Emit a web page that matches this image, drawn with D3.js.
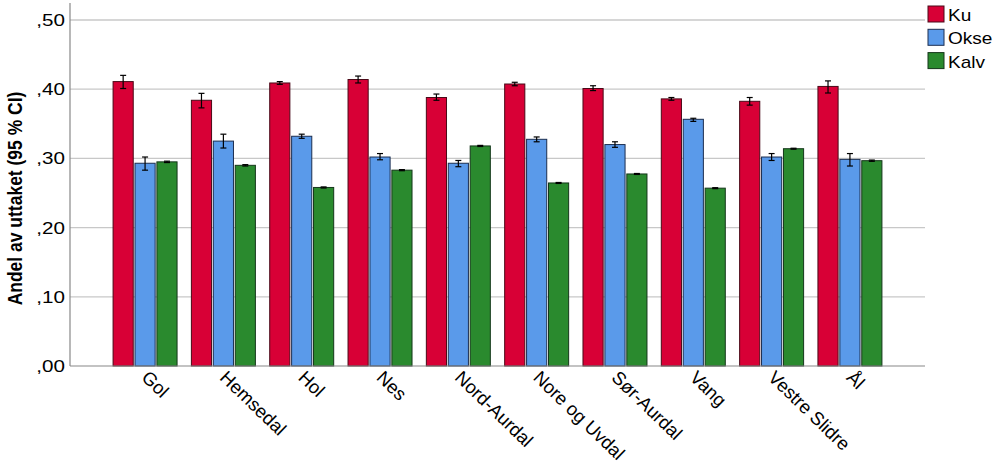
<!DOCTYPE html>
<html><head><meta charset="utf-8">
<script src="https://cdn.jsdelivr.net/npm/d3@7"></script>
<style>body{margin:0;background:#fff}svg{display:block}</style>
</head><body>
<svg id="c" width="997" height="465"></svg>
<script>
const categories = ["Gol","Hemsedal","Hol","Nes","Nord-Aurdal","Nore og Uvdal","Sør-Aurdal","Vang","Vestre Slidre","Ål"];
const seriesNames = ["Ku","Okse","Kalv"];
const kuMean  = [0.411,0.384,0.409,0.414,0.388,0.4075,0.401,0.386,0.3825,0.404];
const kuLow   = [0.401,0.373,0.407,0.409,0.384,0.405,0.398,0.384,0.377,0.3945];
const kuHigh  = [0.420,0.394,0.411,0.419,0.393,0.410,0.405,0.388,0.388,0.412];
const okseMean= [0.293,0.325,0.332,0.302,0.293,0.3276,0.320,0.3565,0.302,0.2986];
const okseLow = [0.283,0.315,0.329,0.298,0.288,0.324,0.316,0.3535,0.297,0.289];
const okseHigh= [0.302,0.335,0.335,0.307,0.297,0.331,0.324,0.358,0.307,0.307];
const kalvMean= [0.295,0.290,0.258,0.283,0.318,0.2645,0.2775,0.257,0.314,0.2967];
const kalvLow = [0.294,0.289,0.2572,0.2822,0.3172,0.2638,0.2768,0.2563,0.3133,0.2958];
const kalvHigh= [0.296,0.291,0.2588,0.2838,0.3188,0.2652,0.2782,0.2577,0.3147,0.2976];
const yTicks = [0,0.1,0.2,0.3,0.4,0.5];
const yTickLabels = [",00",",10",",20",",30",",40",",50"];
const colors = ["#d80036","#5a9aea","#2a8a2e"];
const strokes = ["#4a0a18","#1c2e50","#14361a"];

const means=[kuMean,okseMean,kalvMean], lows=[kuLow,okseLow,kalvLow], highs=[kuHigh,okseHigh,kalvHigh];
const FONT = "Liberation Sans, Arial, sans-serif";

const svg = d3.select("#c");
const L=70, R=925, T=3, B=366;
const y = d3.scaleLinear().domain([0,0.5]).range([B,20]);
const x0 = d3.scaleBand().domain(categories).range([L,R]).paddingInner(0.183).paddingOuter(0.55);
const x1 = d3.scaleBand().domain(seriesNames).range([0,x0.bandwidth()]).paddingInner(0.08);

// gridlines
svg.append("g").selectAll("line").data(yTicks.slice(1)).join("line")
  .attr("x1",L).attr("x2",R).attr("y1",d=>y(d)).attr("y2",d=>y(d))
  .attr("stroke","#c8c8c8").attr("stroke-width",1.3);

// bars
const g = svg.append("g");
categories.forEach((c,i)=>{
  seriesNames.forEach((s,j)=>{
    const bx = x0(c)+x1(s);
    g.append("rect").attr("x",bx).attr("y",y(means[j][i])).attr("width",x1.bandwidth())
      .attr("height",y(0)-y(means[j][i])).attr("fill",colors[j]).attr("stroke",strokes[j]).attr("stroke-width",1);
    const cx = bx + x1.bandwidth()/2;
    const eg = g.append("g").attr("stroke","#000").attr("stroke-width",1.2);
    eg.append("line").attr("x1",cx).attr("x2",cx).attr("y1",y(lows[j][i])).attr("y2",y(highs[j][i]));
    eg.append("line").attr("x1",cx-3).attr("x2",cx+3).attr("y1",y(lows[j][i])).attr("y2",y(lows[j][i]));
    eg.append("line").attr("x1",cx-3).attr("x2",cx+3).attr("y1",y(highs[j][i])).attr("y2",y(highs[j][i]));
  });
});

// axes
svg.append("line").attr("x1",L).attr("x2",L).attr("y1",T).attr("y2",B).attr("stroke","#888").attr("stroke-width",1.2);
svg.append("line").attr("x1",L).attr("x2",R).attr("y1",B).attr("y2",B).attr("stroke","#888").attr("stroke-width",1.2);

svg.append("g").selectAll("text").data(yTicks).join("text")
  .attr("transform",d=>`translate(${L-5},${y(d)+6}) scale(1.25,1)`).attr("text-anchor","end")
  .attr("font-family",FONT).attr("font-size",16.5).attr("fill","#000")
  .text((d,i)=>yTickLabels[i]);

svg.append("text").attr("transform",`translate(22,${(T+B)/2+14}) rotate(-90) scale(1,1.2)`)
  .attr("text-anchor","middle").attr("font-family",FONT)
  .attr("font-size",17.5).attr("font-weight","bold").text("Andel av uttaket (95 % CI)");

// x labels
svg.append("g").selectAll("text").data(categories).join("text")
  .attr("transform",d=>`translate(${x0(d)+x0.bandwidth()/2+5},${B+3}) rotate(44)`)
  .attr("dy","0.74em")
  .attr("font-family",FONT).attr("font-size",18.5).attr("fill","#000")
  .text(d=>d);

// legend
const lg = svg.append("g");
seriesNames.forEach((s,j)=>{
  lg.append("rect").attr("x",928).attr("y",6+j*23.3).attr("width",16).attr("height",16)
    .attr("fill",colors[j]).attr("stroke",strokes[j]).attr("stroke-width",1);
  lg.append("text").attr("transform",`translate(948,${21+j*23.3}) scale(1.12,1)`).attr("font-family",FONT)
    .attr("font-size",17).text(s);
});
</script>
</body></html>
